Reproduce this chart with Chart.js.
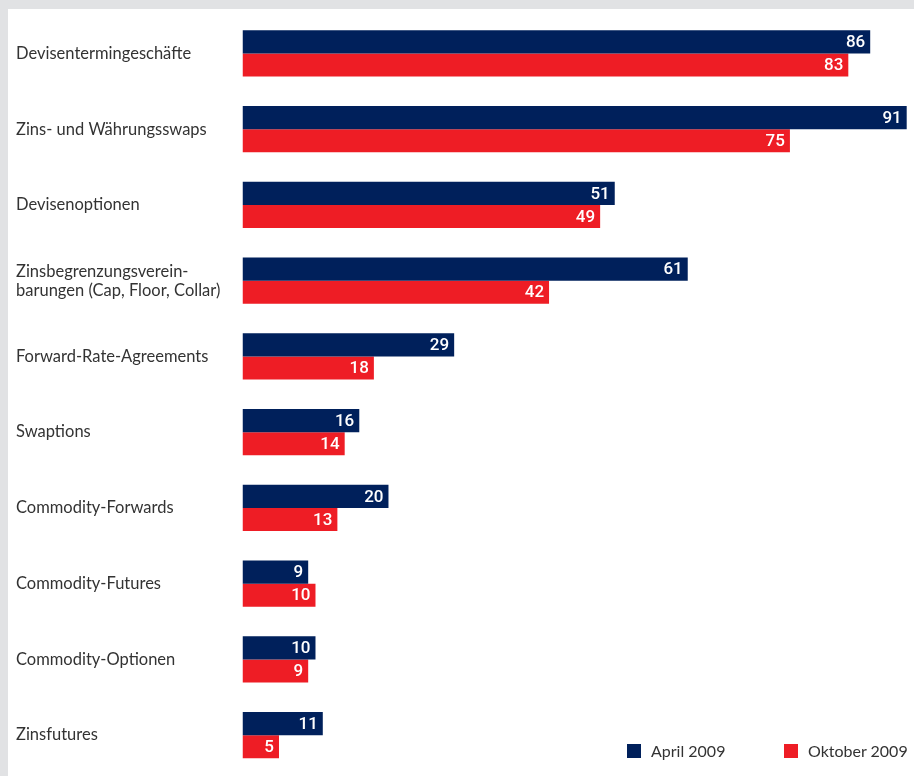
<!DOCTYPE html>
<html><head><meta charset="utf-8">
<script src="https://cdn.jsdelivr.net/npm/chart.js@4/dist/chart.umd.min.js"></script>
<style>
html,body{margin:0;padding:0;background:#e1e2e4;width:914px;height:776px;overflow:hidden;}
#wrap{position:absolute;left:8px;top:9px;width:906px;height:767px;background:#fff;}
#legend{position:absolute;top:733px;left:0;font-family:Lato,sans-serif;font-size:16px;color:#333;}
.li{position:absolute;white-space:nowrap;line-height:18px;}
.sw{position:absolute;width:14px;height:14px;top:2px;left:0;}
.tx{position:absolute;left:24px;top:0;}
</style></head>
<body>
<div id="wrap"><canvas id="c" width="906" height="767"></canvas>
<div id="legend"></div></div>
<script>
const categories = [
  "Devisentermingeschäfte",
  "Zins- und Währungsswaps",
  "Devisenoptionen",
  ["Zinsbegrenzungsverein-", "barungen (Cap, Floor, Collar)"],
  "Forward-Rate-Agreements",
  "Swaptions",
  "Commodity-Forwards",
  "Commodity-Futures",
  "Commodity-Optionen",
  "Zinsfutures"
];
const seriesNames = ["April 2009", "Oktober 2009"];
const april2009 = [86, 91, 51, 61, 29, 16, 20, 9, 10, 11];
const oktober2009 = [83, 75, 49, 42, 18, 14, 13, 10, 9, 5];
const colors = ["#00205b", "#ee1d25"];

const valueLabels = {
  id: 'valueLabels',
  afterDatasetsDraw(chart) {
    const ctx = chart.ctx;
    ctx.save();
    ctx.fillStyle = '#fff';
    ctx.font = '500 17px Roboto';
    ctx.textAlign = 'right';
    ctx.textBaseline = 'middle';
    chart.data.datasets.forEach((ds, i) => {
      chart.getDatasetMeta(i).data.forEach((bar, j) => {
        ctx.fillText(String(ds.data[j]), bar.x - 5, bar.y + 1);
      });
    });
    ctx.restore();
  }
};

const chart = new Chart(document.getElementById('c'), {
  type: 'bar',
  data: {
    labels: categories,
    datasets: [
      { label: seriesNames[0], data: april2009, backgroundColor: colors[0] },
      { label: seriesNames[1], data: oktober2009, backgroundColor: colors[1] }
    ]
  },
  options: {
    indexAxis: 'y',
    responsive: false,
    animation: false,
    layout: { padding: { left: 8, top: 6.6, bottom: 3, right: 0 } },
    datasets: { bar: { categoryPercentage: 0.61, barPercentage: 1.0, borderWidth: 0 } },
    plugins: { legend: { display: false }, tooltip: { enabled: false } },
    scales: {
      x: { display: false, min: 0, max: 92, grid: { display: false } },
      y: {
        grid: { display: false, drawTicks: false },
        border: { display: false },
        afterFit(scale) { scale.width = 226.5; scale.paddingTop = 0; scale.paddingBottom = 0; },
        ticks: {
          crossAlign: 'far',
          padding: 0,
          color: '#333',
          font: { family: 'Lato', size: 16.5, lineHeight: 1.15 }
        }
      }
    }
  },
  plugins: [valueLabels]
});

// legend built from the dataset names
const lg = document.getElementById('legend');
const legendX = [619, 776];
seriesNames.forEach((n, i) => {
  const d = document.createElement('div');
  d.className = 'li';
  d.style.left = legendX[i] + 'px';
  d.innerHTML = '<span class="sw" style="background:' + colors[i] + '"></span><span class="tx"></span>';
  d.querySelector('.tx').textContent = n;
  lg.appendChild(d);
});
</script>
</body></html>
